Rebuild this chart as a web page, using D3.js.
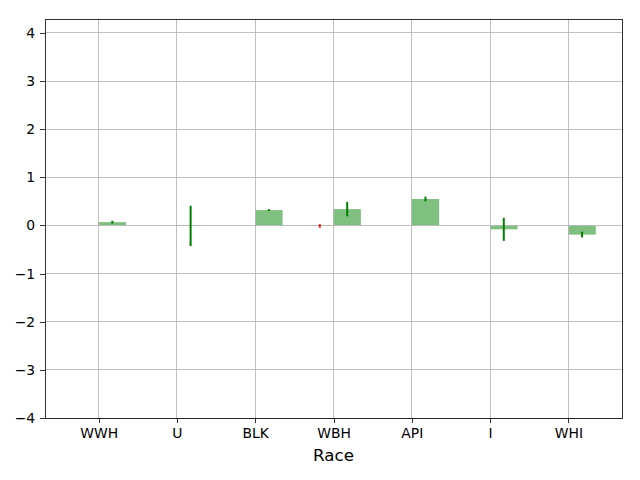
<!DOCTYPE html>
<meta charset="utf-8">
<title>Race bar chart</title>
<style>
body { margin: 0; background: #fff; }
text { font-family: "DejaVu Sans", sans-serif; fill: #000; }
.grid line { stroke: #b0b0b0; stroke-width: 0.8px; shape-rendering: crispEdges; }
.axis path, .axis line { stroke: #000; stroke-width: 0.8px; shape-rendering: crispEdges; }
.axis text { font-size: 13.9px; }
</style>
<body>
<script src="https://d3js.org/d3.v7.min.js"></script>
<script>

// categories and series values
var categories = ["WWH", "U", "BLK", "WBH", "API", "I", "WHI"];
var greenValues = [0.07, -0.01, 0.32, 0.34, 0.55, -0.08, -0.19];
var greenErrors = [0.03, 0.42, 0.02, 0.15, 0.05, 0.24, 0.06];
var redValues = [null, null, null, -0.01, null, null, null];
var redErrors = [null, null, null, 0.035, null, null, null];
var yTicks = [-4, -3, -2, -1, 0, 1, 2, 3, 4];

var W = 640, H = 480;
var margin = {top: 19, right: 18, bottom: 62, left: 45},
    width = W - margin.left - margin.right,
    height = H - margin.top - margin.bottom;
var barWidth = 0.35;

var svg = d3.select("body").append("svg")
    .attr("width", W)
    .attr("height", H);

var g = svg.append("g")
    .attr("transform", "translate(" + margin.left + "," + margin.top + ")");

var x = d3.scaleLinear()
    .domain([-barWidth - 0.335, categories.length - 1 + barWidth + 0.335])
    .range([0, width]);

var y = d3.scaleLinear()
    .domain([-4, 4.29])
    .range([height, 0]);

var minus = function(v) { return String(v).replace("-", "\u2212"); };

// bars first, gridlines drawn over them like matplotlib
function barSeries(values, offset, fill) {
    var data = values.map(function(v, i) { return {i: i, v: v}; })
        .filter(function(d) { return d.v !== null; });
    g.append("g").selectAll("rect")
        .data(data)
        .enter().append("rect")
        .attr("x", function(d) { return x(d.i + offset); })
        .attr("width", function(d) { return x(barWidth) - x(0); })
        .attr("y", function(d) { return y(Math.max(0, d.v)); })
        .attr("height", function(d) { return Math.abs(y(d.v) - y(0)); })
        .attr("fill", fill);
}
barSeries(redValues, -barWidth, "rgba(255,0,0,0.5)");
barSeries(greenValues, 0, "rgba(0,128,0,0.5)");

// grid
g.append("g").attr("class", "grid").selectAll("line")
    .data(yTicks)
    .enter().append("line")
    .attr("x1", 0).attr("x2", width)
    .attr("y1", function(d) { return y(d); })
    .attr("y2", function(d) { return y(d); });

g.append("g").attr("class", "grid").selectAll("line")
    .data(d3.range(categories.length))
    .enter().append("line")
    .attr("y1", 0).attr("y2", height)
    .attr("x1", function(d) { return x(d); })
    .attr("x2", function(d) { return x(d); });

// error bars
function errorSeries(values, errors, offset, colour) {
    var data = values.map(function(v, i) { return {i: i, v: v, e: errors[i]}; })
        .filter(function(d) { return d.v !== null; });
    g.append("g").selectAll("line")
        .data(data)
        .enter().append("line")
        .attr("x1", function(d) { return x(d.i + offset + barWidth / 2); })
        .attr("x2", function(d) { return x(d.i + offset + barWidth / 2); })
        .attr("y1", function(d) { return y(d.v - d.e); })
        .attr("y2", function(d) { return y(d.v + d.e); })
        .attr("stroke", colour)
        .attr("stroke-width", 2);
}
errorSeries(redValues, redErrors, -barWidth, "#ff0000");
errorSeries(greenValues, greenErrors, 0, "#008000");

// axes
g.append("g")
    .attr("class", "axis")
    .attr("transform", "translate(0," + height + ")")
    .call(d3.axisBottom(x)
        .tickValues(d3.range(categories.length))
        .tickFormat(function(i) { return categories[i]; })
        .tickSizeOuter(0).tickSize(4.9).tickPadding(4.9));

g.append("g")
    .attr("class", "axis")
    .call(d3.axisLeft(y)
        .tickValues(yTicks)
        .tickFormat(minus)
        .tickSizeOuter(0).tickSize(4.9).tickPadding(4.9));

g.selectAll(".axis .domain").remove();

// frame
g.append("rect")
    .attr("width", width)
    .attr("height", height)
    .attr("fill", "none")
    .attr("stroke", "#000")
    .attr("stroke-width", 0.8)
    .attr("shape-rendering", "crispEdges");

// x label
svg.append("text")
    .attr("x", margin.left + width / 2)
    .attr("y", 461)
    .attr("text-anchor", "middle")
    .style("font-size", "16.7px")
    .text("Race");

</script>
</body>
